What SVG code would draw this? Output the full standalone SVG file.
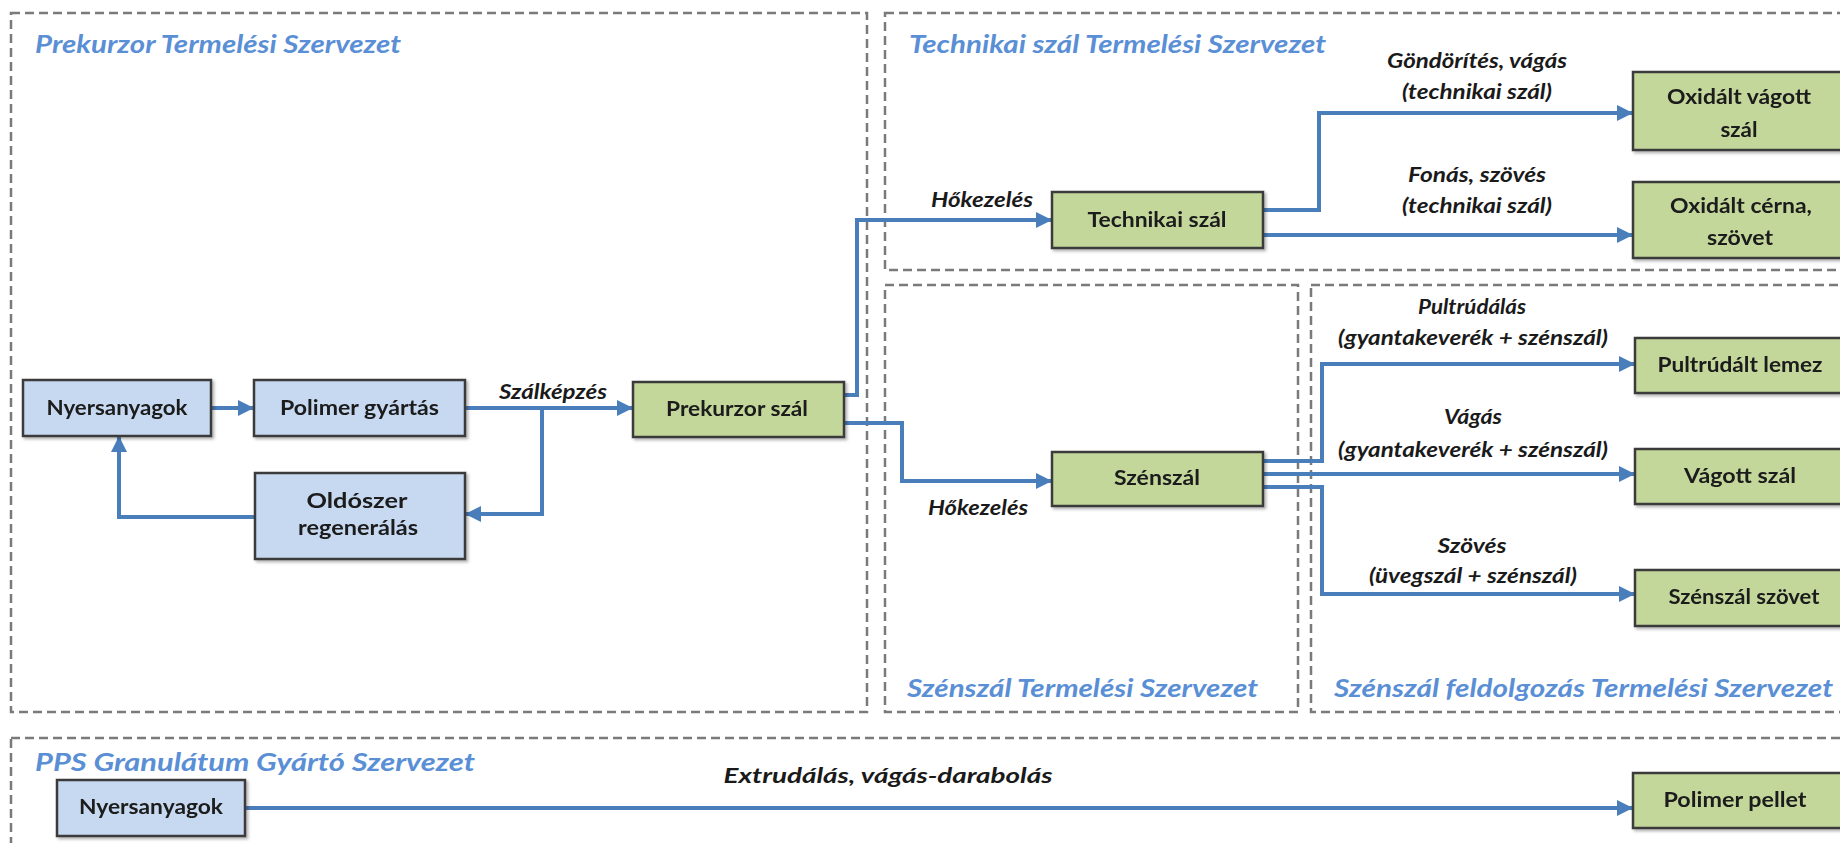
<svg xmlns="http://www.w3.org/2000/svg" width="1840" height="843" viewBox="0 0 1840 843">
<style>
.bg{fill:#ffffff}
.cont{fill:none;stroke:#7a7a7a;stroke-width:2.5;stroke-dasharray:9 5}
.title{font-family:Lato,"Liberation Sans",sans-serif;font-weight:bold;font-style:italic;font-size:24px;fill:#5a8fd6}
.blue{fill:#c6d9f1;stroke:#3a3a3a;stroke-width:2.5}
.green{fill:#c4d79b;stroke:#3a3a3a;stroke-width:2.5}
.nt{font-family:Lato,"Liberation Sans",sans-serif;font-weight:bold;font-size:21px;fill:#1a1a1a;text-anchor:middle}
.lbl{font-family:Lato,"Liberation Sans",sans-serif;font-weight:bold;font-style:italic;font-size:20px;fill:#1a1a1a;text-anchor:middle}
.con{fill:none;stroke:#4a7ebb;stroke-width:4}
</style>
<defs>
<marker id="arr" markerUnits="userSpaceOnUse" markerWidth="18" markerHeight="18" viewBox="0 0 18 18" refX="17" refY="9" orient="auto">
<path d="M1 1 L17 9 L1 17 Z" fill="#4a7ebb"/>
</marker>
<filter id="sh" x="-10%" y="-10%" width="130%" height="140%">
<feDropShadow dx="2" dy="2" stdDeviation="1.5" flood-color="#000" flood-opacity="0.3"/>
</filter>
</defs>
<rect class="bg" x="0" y="0" width="1840" height="843"/>

<g id="containers">
<g id="c-prekurzor"><rect class="cont" x="11" y="13" width="856" height="699"/><text class="title" x="35" y="53" textLength="366" lengthAdjust="spacingAndGlyphs">Prekurzor Termelési Szervezet</text></g>
<g id="c-technikai"><rect class="cont" x="885" y="13" width="970" height="257"/><text class="title" x="909" y="53" textLength="417" lengthAdjust="spacingAndGlyphs">Technikai  szál Termelési Szervezet</text></g>
<g id="c-szenszal"><rect class="cont" x="885" y="285" width="413" height="427"/><text class="title" x="907" y="697" textLength="351" lengthAdjust="spacingAndGlyphs">Szénszál Termelési Szervezet</text></g>
<g id="c-feldolgozas"><rect class="cont" x="1311" y="285" width="545" height="427"/><text class="title" x="1334" y="697" textLength="499" lengthAdjust="spacingAndGlyphs">Szénszál feldolgozás Termelési Szervezet</text></g>
<g id="c-pps"><rect class="cont" x="11" y="738" width="1845" height="120"/><text class="title" x="35" y="771" textLength="440" lengthAdjust="spacingAndGlyphs">PPS Granulátum Gyártó Szervezet</text></g>
</g>

<g id="connectors">
<path class="con" d="M211 408 H254" marker-end="url(#arr)"/>
<path class="con" d="M465 408 H633" marker-end="url(#arr)"/>
<path class="con" d="M542 408 V514 H465" marker-end="url(#arr)"/>
<path class="con" d="M255 517 H119 V436" marker-end="url(#arr)"/>
<path class="con" d="M844 395 H857 V220 H1052" marker-end="url(#arr)"/>
<path class="con" d="M844 423 H902 V481 H1052" marker-end="url(#arr)"/>
<path class="con" d="M1263 210 H1319 V113 H1633" marker-end="url(#arr)"/>
<path class="con" d="M1263 235 H1633" marker-end="url(#arr)"/>
<path class="con" d="M1263 461 H1322 V364 H1635" marker-end="url(#arr)"/>
<path class="con" d="M1263 474 H1635" marker-end="url(#arr)"/>
<path class="con" d="M1263 487 H1322 V594 H1635" marker-end="url(#arr)"/>
<path class="con" d="M245 808 H1633" marker-end="url(#arr)"/>
<text class="lbl" x="553" y="399" textLength="108" lengthAdjust="spacingAndGlyphs">Szálképzés</text>
<text class="lbl" x="982" y="207" textLength="102" lengthAdjust="spacingAndGlyphs">Hőkezelés</text>
<text class="lbl" x="978" y="515" textLength="100" lengthAdjust="spacingAndGlyphs">Hőkezelés</text>
<text class="lbl" x="1477" y="68" textLength="180" lengthAdjust="spacingAndGlyphs">Göndörítés, vágás</text>
<text class="lbl" x="1477" y="99" textLength="150" lengthAdjust="spacingAndGlyphs">(technikai szál)</text>
<text class="lbl" x="1477" y="182" textLength="138" lengthAdjust="spacingAndGlyphs">Fonás, szövés</text>
<text class="lbl" x="1477" y="213" textLength="150" lengthAdjust="spacingAndGlyphs">(technikai szál)</text>
<text class="lbl" x="1472" y="314" textLength="108" lengthAdjust="spacingAndGlyphs">Pultrúdálás</text>
<text class="lbl" x="1473" y="345" textLength="270" lengthAdjust="spacingAndGlyphs">(gyantakeverék + szénszál)</text>
<text class="lbl" x="1473" y="424" textLength="58" lengthAdjust="spacingAndGlyphs">Vágás</text>
<text class="lbl" x="1473" y="457" textLength="270" lengthAdjust="spacingAndGlyphs">(gyantakeverék + szénszál)</text>
<text class="lbl" x="1472" y="553" textLength="69" lengthAdjust="spacingAndGlyphs">Szövés</text>
<text class="lbl" x="1473" y="583" textLength="208" lengthAdjust="spacingAndGlyphs">(üvegszál + szénszál)</text>
<text class="lbl" x="888" y="783" textLength="329" lengthAdjust="spacingAndGlyphs">Extrudálás, vágás-darabolás</text>
</g>

<g id="n-nyersanyagok" filter="url(#sh)"><rect class="blue" x="23" y="380" width="188" height="56"/><text class="nt" x="117" y="415" textLength="141" lengthAdjust="spacingAndGlyphs">Nyersanyagok</text></g>
<g id="n-polimer" filter="url(#sh)"><rect class="blue" x="254" y="380" width="211" height="56"/><text class="nt" x="359.5" y="415" textLength="159" lengthAdjust="spacingAndGlyphs">Polimer gyártás</text></g>
<g id="n-prekurzor" filter="url(#sh)"><rect class="green" x="633" y="382" width="211" height="55"/><text class="nt" x="737" y="416" textLength="142" lengthAdjust="spacingAndGlyphs">Prekurzor szál</text></g>
<g id="n-oldoszer" filter="url(#sh)"><rect class="blue" x="255" y="473" width="210" height="86"/><text class="nt" x="357" y="508" textLength="101" lengthAdjust="spacingAndGlyphs">Oldószer</text><text class="nt" x="358" y="535" textLength="120" lengthAdjust="spacingAndGlyphs">regenerálás</text></g>
<g id="n-technikai" filter="url(#sh)"><rect class="green" x="1052" y="192" width="211" height="56"/><text class="nt" x="1157" y="227" textLength="139" lengthAdjust="spacingAndGlyphs">Technikai szál</text></g>
<g id="n-oxvagott" filter="url(#sh)"><rect class="green" x="1633" y="72" width="212" height="78"/><text class="nt" x="1739" y="104" textLength="144" lengthAdjust="spacingAndGlyphs">Oxidált vágott</text><text class="nt" x="1739" y="137" textLength="37" lengthAdjust="spacingAndGlyphs">szál</text></g>
<g id="n-oxcerna" filter="url(#sh)"><rect class="green" x="1633" y="182" width="212" height="76"/><text class="nt" x="1741" y="213" textLength="142" lengthAdjust="spacingAndGlyphs">Oxidált cérna,</text><text class="nt" x="1740" y="245" textLength="66" lengthAdjust="spacingAndGlyphs">szövet</text></g>
<g id="n-szenszal" filter="url(#sh)"><rect class="green" x="1052" y="452" width="211" height="54"/><text class="nt" x="1157" y="485" textLength="86" lengthAdjust="spacingAndGlyphs">Szénszál</text></g>
<g id="n-pultrudalt" filter="url(#sh)"><rect class="green" x="1635" y="338" width="212" height="55"/><text class="nt" x="1740" y="372" textLength="165" lengthAdjust="spacingAndGlyphs">Pultrúdált lemez</text></g>
<g id="n-vagott" filter="url(#sh)"><rect class="green" x="1635" y="449" width="212" height="55"/><text class="nt" x="1740" y="483" textLength="112" lengthAdjust="spacingAndGlyphs">Vágott szál</text></g>
<g id="n-szovet" filter="url(#sh)"><rect class="green" x="1635" y="570" width="212" height="56"/><text class="nt" x="1744" y="604" textLength="151" lengthAdjust="spacingAndGlyphs">Szénszál szövet</text></g>
<g id="n-nyersanyagok2" filter="url(#sh)"><rect class="blue" x="57" y="780" width="188" height="56"/><text class="nt" x="151" y="814" textLength="144" lengthAdjust="spacingAndGlyphs">Nyersanyagok</text></g>
<g id="n-pellet" filter="url(#sh)"><rect class="green" x="1633" y="773" width="212" height="55"/><text class="nt" x="1735" y="807" textLength="143" lengthAdjust="spacingAndGlyphs">Polimer pellet</text></g>
</svg>
